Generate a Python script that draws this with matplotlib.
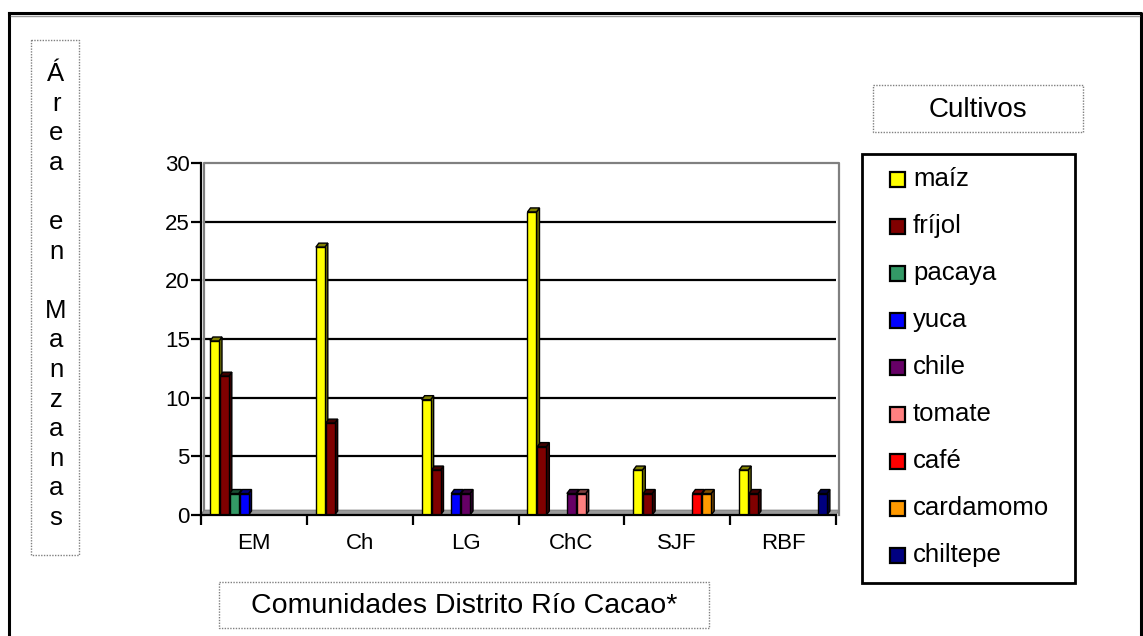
import matplotlib
matplotlib.use("Agg")
import matplotlib.pyplot as plt
from matplotlib.patches import Polygon, Rectangle
import numpy as np

# Cultivated area (manzanas) per community of the Río Cacao district
communities = ["EM", "Ch", "LG", "ChC", "SJF", "RBF"]
crops = ["maíz", "fríjol", "pacaya", "yuca", "chile", "tomate", "café", "cardamomo", "chiltepe"]
crop_colors = ["#FFFF00", "#800000", "#339966", "#0000FF", "#660066",
               "#FF8080", "#FF0000", "#FF9900", "#000080"]

maiz = [15, 23, 10, 26, 4, 4]
frijol = [12, 8, 4, 6, 2, 2]
pacaya = [2, 0, 0, 0, 0, 0]
yuca = [2, 0, 2, 0, 0, 0]
chile = [0, 0, 2, 2, 0, 0]
tomate = [0, 0, 0, 2, 0, 0]
cafe = [0, 0, 0, 0, 2, 0]
cardamomo = [0, 0, 0, 0, 2, 0]
chiltepe = [0, 0, 0, 0, 0, 2]
series = [maiz, frijol, pacaya, yuca, chile, tomate, cafe, cardamomo, chiltepe]

y_ticks = [0, 5, 10, 15, 20, 25, 30]

W, H = 1143, 636
FONT = "Liberation Sans"
plt.rcParams["font.family"] = [FONT, "DejaVu Sans"]

fig = plt.figure(figsize=(W / 100, H / 100), dpi=100)
fig.patch.set_facecolor("white")

# pixel box of the plot area (front plane)
px_l, px_r, px_t, px_b = 201, 836, 163, 515
ax = fig.add_axes([px_l / W, 1 - px_b / H, (px_r - px_l) / W, (px_b - px_t) / H])
ax.set_xlim(0, len(communities))
ax.set_ylim(0, 30)
ax.set_facecolor("none")

# pixel -> data conversion for the 3D depth effect
ux = len(communities) / (px_r - px_l)
uy = 30 / (px_b - px_t)
dx, dy = 3 * ux, 4 * uy

# back wall: gridlines and grey frame
for t in y_ticks[1:-1]:
    ax.plot([dx, len(communities) + dx], [t, t], color="black", lw=1.6, zorder=1)
ax.plot([dx, dx, len(communities) + dx, len(communities) + dx],
        [0, 30, 30, 0], color="#808080", lw=1.6, zorder=1, clip_on=False)
# floor
ax.add_patch(Polygon([[0, 0], [len(communities), 0],
                      [len(communities) + dx, dy * 1.2], [dx, dy * 1.2]],
                     closed=True, facecolor="#999999", edgecolor="#808080",
                     lw=0.8, zorder=2, clip_on=False))


def darker(c, f=0.5):
    r, g, b = matplotlib.colors.to_rgb(c)
    return (r * f, g * f, b * f)


# 3D-style columns
bar_w = 0.085
pitch = 0.093
start = 0.085
for k in range(len(communities)):
    for i, vals in enumerate(series):
        v = vals[k]
        if v <= 0:
            continue
        x0 = k + start + i * pitch
        x1 = x0 + bar_w
        top = v - dy / 2
        col = crop_colors[i]
        # side face
        ax.add_patch(Polygon([[x1, 0], [x1 + dx, dy], [x1 + dx, top + dy], [x1, top]],
                             closed=True, facecolor=darker(col, 0.45),
                             edgecolor="black", lw=1.0, zorder=3))
        # top face
        ax.add_patch(Polygon([[x0, top], [x1, top], [x1 + dx, top + dy], [x0 + dx, top + dy]],
                             closed=True, facecolor=darker(col, 0.5),
                             edgecolor="black", lw=1.0, zorder=3))
        # front face
        ax.add_patch(Rectangle((x0, 0), bar_w, top, facecolor=col,
                               edgecolor="black", lw=1.0, zorder=4))

# axes
for s in ["top", "right"]:
    ax.spines[s].set_visible(False)
ax.spines["left"].set_linewidth(1.6)
ax.spines["bottom"].set_linewidth(1.6)
ax.spines["left"].set_zorder(6)
ax.spines["bottom"].set_zorder(6)
ax.set_yticks(y_ticks)
ax.set_yticklabels([str(t) for t in y_ticks])
ax.set_xticks(np.arange(len(communities) + 1))
ax.set_xticklabels([""] * (len(communities) + 1))
ax.set_xticks(np.arange(len(communities)) + 0.5, minor=True)
ax.set_xticklabels(communities, minor=True)
ax.tick_params(axis="y", length=7, width=1.6, labelsize=16, pad=1)
ax.tick_params(axis="x", which="major", length=7, width=1.6)
ax.tick_params(axis="x", which="minor", length=0, labelsize=16, pad=13)

# overlay in pixel coordinates for boxes, titles and legend
ov = fig.add_axes([0, 0, 1, 1], zorder=10)
ov.set_xlim(0, W)
ov.set_ylim(H, 0)
ov.axis("off")
ov.set_facecolor("none")

# outer frame
ov.plot([9, 1141, 1141], [13, 13, 640], color="black", lw=2.2)
ov.plot([9, 9], [13, 640], color="black", lw=2.2)
ov.plot([11, 1139], [15.5, 15.5], color="#999999", lw=1)

dotted = dict(color="#808080", lw=1, linestyle=(0, (1, 1)))


def dotted_box(x0, y0, x1, y1):
    ov.plot([x0, x1, x1, x0, x0], [y0, y0, y1, y1, y0], **dotted)


# vertical axis title, stacked letters
dotted_box(31, 40, 79, 555)
y_title = ["Á", "r", "e", "a", "", "e", "n", "", "M", "a", "n", "z", "a", "n", "a", "s"]
y_pos = np.linspace(74, 518, len(y_title))
for ch, yp in zip(y_title, y_pos):
    if ch:
        ov.text(56, yp, ch, fontsize=18.5, ha="center", va="center")

# horizontal axis title
dotted_box(219, 582, 709, 628)
ov.text(464, 606, "Comunidades Distrito Río Cacao*", fontsize=20.5,
        ha="center", va="center")

# legend title
dotted_box(873, 85, 1083, 132)
ov.text(978, 110, "Cultivos", fontsize=20, ha="center", va="center")

# legend
ov.add_patch(Rectangle((862, 154), 213, 429, facecolor="white",
                       edgecolor="black", lw=2))
for i, (name, col) in enumerate(zip(crops, crop_colors)):
    yc = 179 + i * 47
    ov.add_patch(Rectangle((890, yc - 7.5), 15, 15, facecolor=col,
                           edgecolor="black", lw=1.6))
    ov.text(913, yc, name, fontsize=18.5, ha="left", va="center")

fig.savefig("out.png", dpi=100)
